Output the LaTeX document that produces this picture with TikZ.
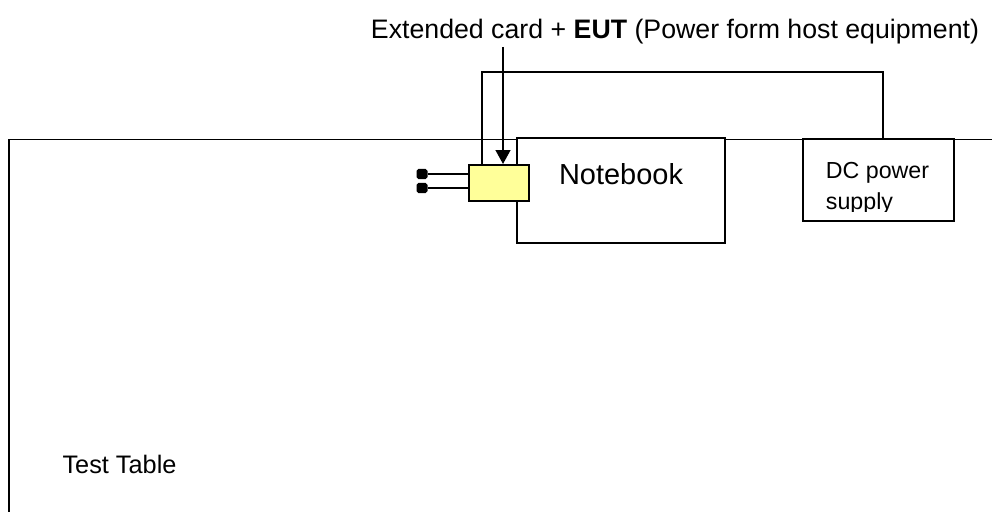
\documentclass[tikz,border=0pt]{standalone}
\usepackage{fontspec}
\setmainfont{Liberation Sans}
\usepackage{tikz}
\usetikzlibrary{arrows.meta,positioning}
\definecolor{Amarillo}{HTML}{FFFF99}
\definecolor{Negro}{HTML}{000000}

\begin{document}
\begin{tikzpicture}[
  x=0.025cm,y=-0.025cm,
  line width=1.4pt,
  caja/.style={draw=Negro,fill=white,line width=1.4pt,inner sep=0pt},
  tarjeta/.style={caja,fill=Amarillo,minimum width=1.5cm,minimum height=0.9cm},
  clavija/.style={fill=Negro,rounded corners=1.3pt,inner sep=0pt,minimum width=0.275cm,minimum height=0.25cm},
  flecha/.style={-{Triangle[length=3.5mm,width=3.7mm]},Negro,line width=1.4pt},
  cable/.style={Negro,line width=1.4pt}
]
  \useasboundingbox (0,0) rectangle (992,512);
  \clip (0,0) rectangle (992,512);

  % Mesa de ensayo: sólo se ven el borde superior y el izquierdo.
  \draw[cable] (9,530) |- (1010,139.5);
  \node[anchor=base,font=\fontsize{18}{22}\selectfont] (mesa) at (119.5,473) {Test Table};

  % Equipos sobre la mesa.
  \node[caja,minimum width=5.2cm,minimum height=2.625cm] (notebook) at (621,190.5) {};
  \node[anchor=base,font=\fontsize{20.6}{24}\selectfont] (nbtexto) at (621,184) {Notebook};
  \node[caja,minimum width=3.775cm,minimum height=2.05cm] (fuente) at (878.5,180) {};
  \begin{scope}
    \clip (800,139) rectangle (960,211);
    \node[anchor=north west,align=left,inner sep=0pt,font=\fontsize{16.5}{22}\selectfont]
      (fuentetexto) at (825,161) {DC power\\supply};
  \end{scope}
  \node[tarjeta] (tarjeta) at (499,183) {};

  % Clavijas de la tarjeta.
  \node[clavija] (pinA) at (422,174) {};
  \node[clavija] (pinB) at (422,188) {};
  \draw[cable] (tarjeta.west |- pinA) -- (pinA.east);
  \draw[cable] (tarjeta.west |- pinB) -- (pinB.east);

  % Alimentacion desde la fuente hasta la tarjeta.
  \draw[cable] ([xshift=0.35cm]tarjeta.north west) -- ++(0,-92)
    -| ([xshift=0.1125cm]fuente.north);

  % Rotulo y flecha hacia la tarjeta.
  \node[inner sep=1pt,font=\fontsize{19}{23}\selectfont] (rotulo) at (675,32)
    {Extended card + \textbf{EUT} (Power form host equipment)};
  \coordinate (punta) at ([xshift=0.1cm]tarjeta.north);
  \draw[flecha] (rotulo.south -| punta) -- (punta);
\end{tikzpicture}
\end{document}
